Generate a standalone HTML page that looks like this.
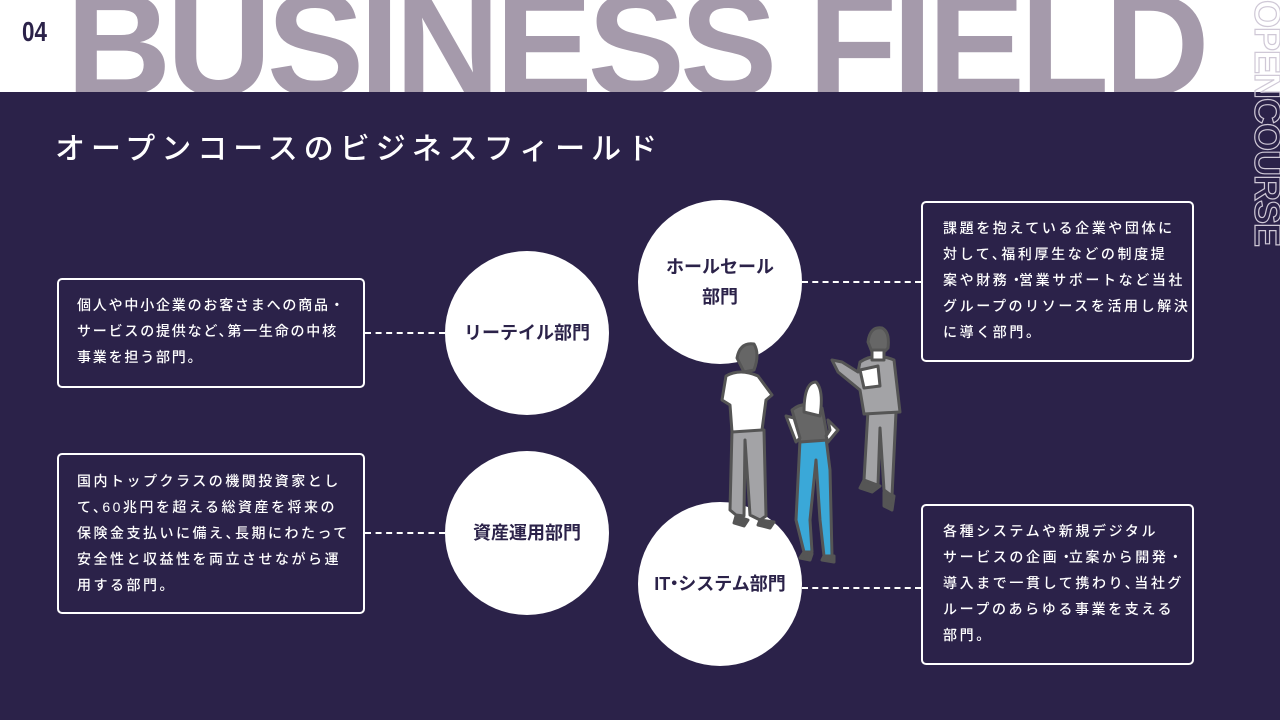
<!DOCTYPE html>
<html><head><meta charset="utf-8"><style>
*{margin:0;padding:0;box-sizing:border-box}
body{width:1280px;height:720px;overflow:hidden;background:#2b2249;position:relative;font-family:"Liberation Sans","Noto Sans CJK JP",sans-serif}
.hdr{position:absolute;left:0;top:0;width:1280px;height:92px;background:#fff;overflow:hidden}
.big{position:absolute;left:66px;top:-28px;font-size:146px;font-weight:bold;color:#a59aab;letter-spacing:-5px;white-space:nowrap;line-height:1}
.num{position:absolute;left:22px;top:16px;font-size:28px;font-weight:bold;color:#2b2249;transform:scaleX(.8);transform-origin:left}
.oc{position:absolute;left:1250px;top:0;width:250px;height:34px;transform-origin:0 0;transform:translate(34px,0) rotate(90deg);font-size:36px;font-weight:bold;color:transparent;-webkit-text-stroke:1.2px #cfc8d6;line-height:34px;letter-spacing:-1px;white-space:nowrap}
.title{position:absolute;left:55px;top:124px;font-size:30px;color:#fff;letter-spacing:6px;font-weight:500;white-space:nowrap}
.box{position:absolute;border:2px solid #fff;border-radius:5px}
.tx{position:absolute;color:#fff;font-size:14px;line-height:26px;font-weight:500;white-space:nowrap}
.p{margin-right:-7px}
.c{position:absolute;width:164px;height:164px;border-radius:50%;background:#fff;display:flex;align-items:center;justify-content:center;text-align:center;color:#2b2249;font-size:18px;font-weight:bold;line-height:30px}
.d{position:absolute;border-top:2px dashed #fff;height:0}
</style></head><body>
<div class="hdr"><div class="big">BUSINESS FIELD</div><div class="num">04</div></div>
<div class="oc">OPENCOURSE</div>
<div class="title">オープンコースのビジネスフィールド</div>

<div class="box" style="left:57px;top:278px;width:308px;height:110px"></div>
<div class="tx" style="left:77px;top:292px;letter-spacing:1.8px">個人や中小企業のお客さまへの商品<span class="p">・</span><br>サービスの提供など<span class="p">、</span>第一生命の中核<br>事業を担う部門。</div>
<div class="box" style="left:57px;top:453px;width:308px;height:161px"></div>
<div class="tx" style="left:77px;top:468px;letter-spacing:2.5px">国内トップクラスの機関投資家とし<br>て<span class="p">、</span>60兆円を超える総資産を将来の<br>保険金支払いに備え<span class="p">、</span>長期にわたって<br>安全性と収益性を両立させながら運<br>用する部門。</div>
<div class="box" style="left:921px;top:201px;width:273px;height:161px"></div>
<div class="tx" style="left:943px;top:215px;letter-spacing:2.6px">課題を抱えている企業や団体に<br>対して<span class="p">、</span>福利厚生などの制度提<br>案や財務<span class="p">・</span>営業サポートなど当社<br>グループのリソースを活用し解決<br>に導く部門。</div>
<div class="box" style="left:921px;top:504px;width:273px;height:161px"></div>
<div class="tx" style="left:943px;top:518px;letter-spacing:2.6px">各種システムや新規デジタル<br>サービスの企画<span class="p">・</span>立案から開発<span class="p">・</span><br>導入まで一貫して携わり<span class="p">、</span>当社グ<br>ループのあらゆる事業を支える<br>部門。</div>

<div class="d" style="left:365px;top:332px;width:80px"></div>
<div class="d" style="left:365px;top:532px;width:80px"></div>
<div class="d" style="left:802px;top:281px;width:119px"></div>
<div class="d" style="left:802px;top:587px;width:119px"></div>

<div class="c" style="left:445px;top:251px">リーテイル部門</div>
<div class="c" style="left:445px;top:451px">資産運用部門</div>
<div class="c" style="left:638px;top:200px">ホールセール<br>部門</div>
<div class="c" style="left:638px;top:502px">IT<span style="margin:0 -5px">・</span>システム部門</div>

<svg style="position:absolute;left:700px;top:320px" width="220" height="250" viewBox="0 0 220 250">
<g stroke="#555" stroke-width="3" stroke-linejoin="round">
<path d="M32 110 L30 190 L36 195 L44 196 L45 120 L50 195 L60 200 L66 196 L64 110 Z" fill="#a3a3a6"/>
<path d="M26 56 Q40 48 58 56 L72 75 L66 80 L62 110 L32 112 L30 85 L22 80 Z" fill="#fff"/>
<path d="M37 38 Q40 22 54 24 Q60 34 54 50 L44 52 Z" fill="#666"/>
<path d="M36 196 L48 200 L44 206 L34 203Z M60 200 L74 202 L70 208 L58 205Z" fill="#555"/>
<path d="M100 120 L96 200 L104 232 L112 232 L110 200 L116 140 L120 200 L124 236 L132 236 L130 150 L126 118 Z" fill="#3aa8d8"/>
<path d="M92 90 Q104 80 122 88 L128 120 L100 122 L96 104 Z" fill="#666"/>
<path d="M104 92 Q104 62 116 62 Q124 70 120 96 Z" fill="#fff"/>
<path d="M86 96 L96 122 L100 118 L94 98 Z M128 100 L138 110 L128 122 L126 116 L130 110 Z" fill="#fff"/>
<path d="M104 232 L112 234 L110 240 L100 238Z M124 236 L134 236 L134 242 L122 240Z" fill="#555"/>
<path d="M168 90 L164 160 L170 164 L178 165 L180 108 L184 170 L192 176 L196 92 Z" fill="#a3a3a6"/>
<path d="M160 42 Q175 32 194 40 L200 92 L164 94 L160 70 L138 52 L132 40 L142 42 L158 52 Z" fill="#a3a3a6"/>
<path d="M168 22 Q170 6 182 8 Q190 12 188 28 L184 32 L172 32 Z" fill="#666"/>
<path d="M172 30 L172 40 L184 40 L184 30 Z" fill="#fff"/>
<path d="M160 50 L178 46 L180 66 L164 68 Z" fill="#fff"/>
<path d="M164 160 L180 166 L172 172 L160 168Z M184 172 L194 176 L192 190 L184 186Z" fill="#555"/>
</g>
</svg>
</body></html>
